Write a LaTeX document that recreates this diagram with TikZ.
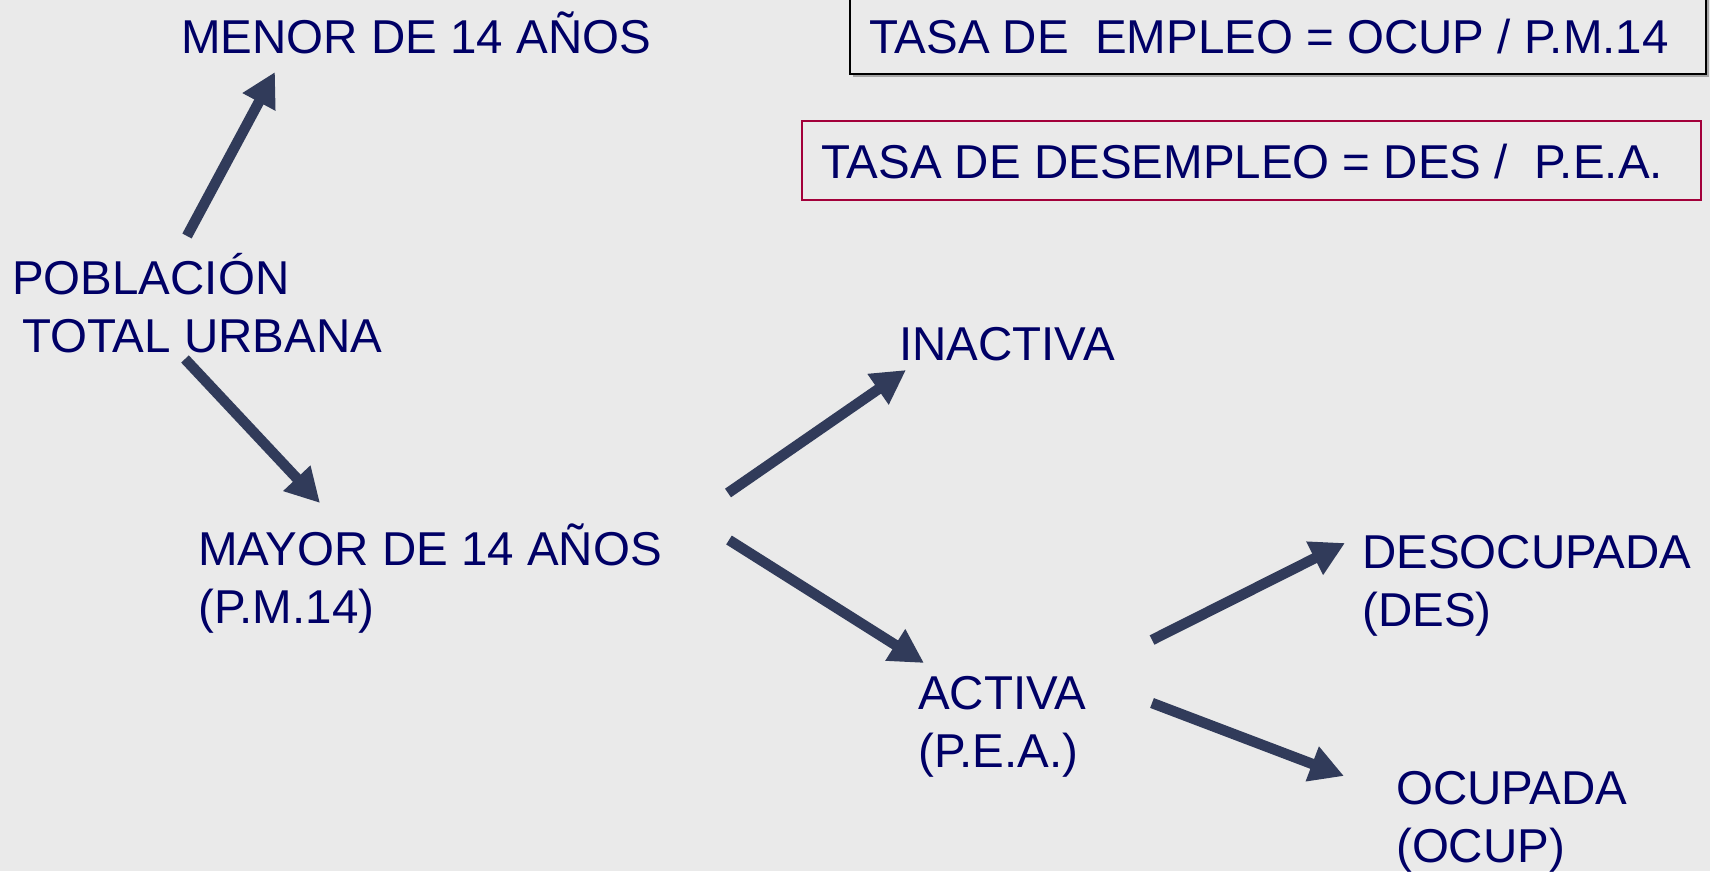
\documentclass[tikz,border=0pt]{standalone}
\usepackage{fontspec}
\setmainfont{Liberation Sans}
\usetikzlibrary{arrows.meta}
\definecolor{bg}{HTML}{EAEAEA}
\definecolor{txt}{HTML}{000066}
\definecolor{arr}{HTML}{313B5A}
\definecolor{redbox}{HTML}{A3003A}
\tikzset{
  lbl/.style={anchor=base west, inner sep=0pt, text=txt, align=left,
    font=\fontsize{47.5bp}{58bp}\selectfont},
  bigarrow/.style={draw=arr, line width=10.5bp, line cap=butt,
    -{Triangle[length=34bp, width=35bp]}},
}
\begin{document}
\begin{tikzpicture}[x=1bp, y=-1bp]
\fill[bg] (0,0) rectangle (1710,871);
\useasboundingbox (0,0) rectangle (1710,871);

% formula boxes
\fill[black!35] (853,-5) rectangle (1709,77);
\fill[bg] (850,-5) rectangle (1706,74);
\draw[black, line width=2bp] (850,-5) rectangle (1706,74);
\node[lbl] (f1) at (869,53) {TASA DE\ \ EMPLEO = OCUP / P.M.14};
\draw[redbox, line width=2bp] (802,121) rectangle (1701,200);
\node[lbl] (f2) at (821,178) {TASA DE DESEMPLEO = DES /\ \ P.E.A.};

% labels (multi-line nodes: base = baseline of last line)
\node[lbl] (menor) at (181,53) {MENOR DE 14 AÑOS};
\node[lbl] (pob) at (12,352) {POBLACIÓN\\\hspace*{10bp}TOTAL URBANA};
\node[lbl] (mayor) at (198,623) {MAYOR DE 14 AÑOS\\(P.M.14)};
\node[lbl] (inact) at (899,360) {INACTIVA};
\node[lbl] (act) at (918,767) {ACTIVA\\(P.E.A.)};
\node[lbl] (deso) at (1362,626) {DESOCUPADA\\(DES)};
\node[lbl] (ocu) at (1396,862) {OCUPADA\\(OCUP)};

% arrow end points
\coordinate (a1s) at (187,236); \coordinate (a1e) at (275,72);
\coordinate (a2s) at (185,359); \coordinate (a2e) at (320,503);
\coordinate (a3s) at (728,493); \coordinate (a3e) at (906,370);
\coordinate (a4s) at (729,540); \coordinate (a4e) at (924,663);
\coordinate (a5s) at (1152,640); \coordinate (a5e) at (1345,543);
\coordinate (a6s) at (1152,703); \coordinate (a6e) at (1344,776);

\draw[bigarrow] (a1s) -- (a1e);
\draw[bigarrow] (a2s) -- (a2e);
\draw[bigarrow] (a3s) -- (a3e);
\draw[bigarrow] (a4s) -- (a4e);
\draw[bigarrow] (a5s) -- (a5e);
\draw[bigarrow] (a6s) -- (a6e);
\end{tikzpicture}
\end{document}
